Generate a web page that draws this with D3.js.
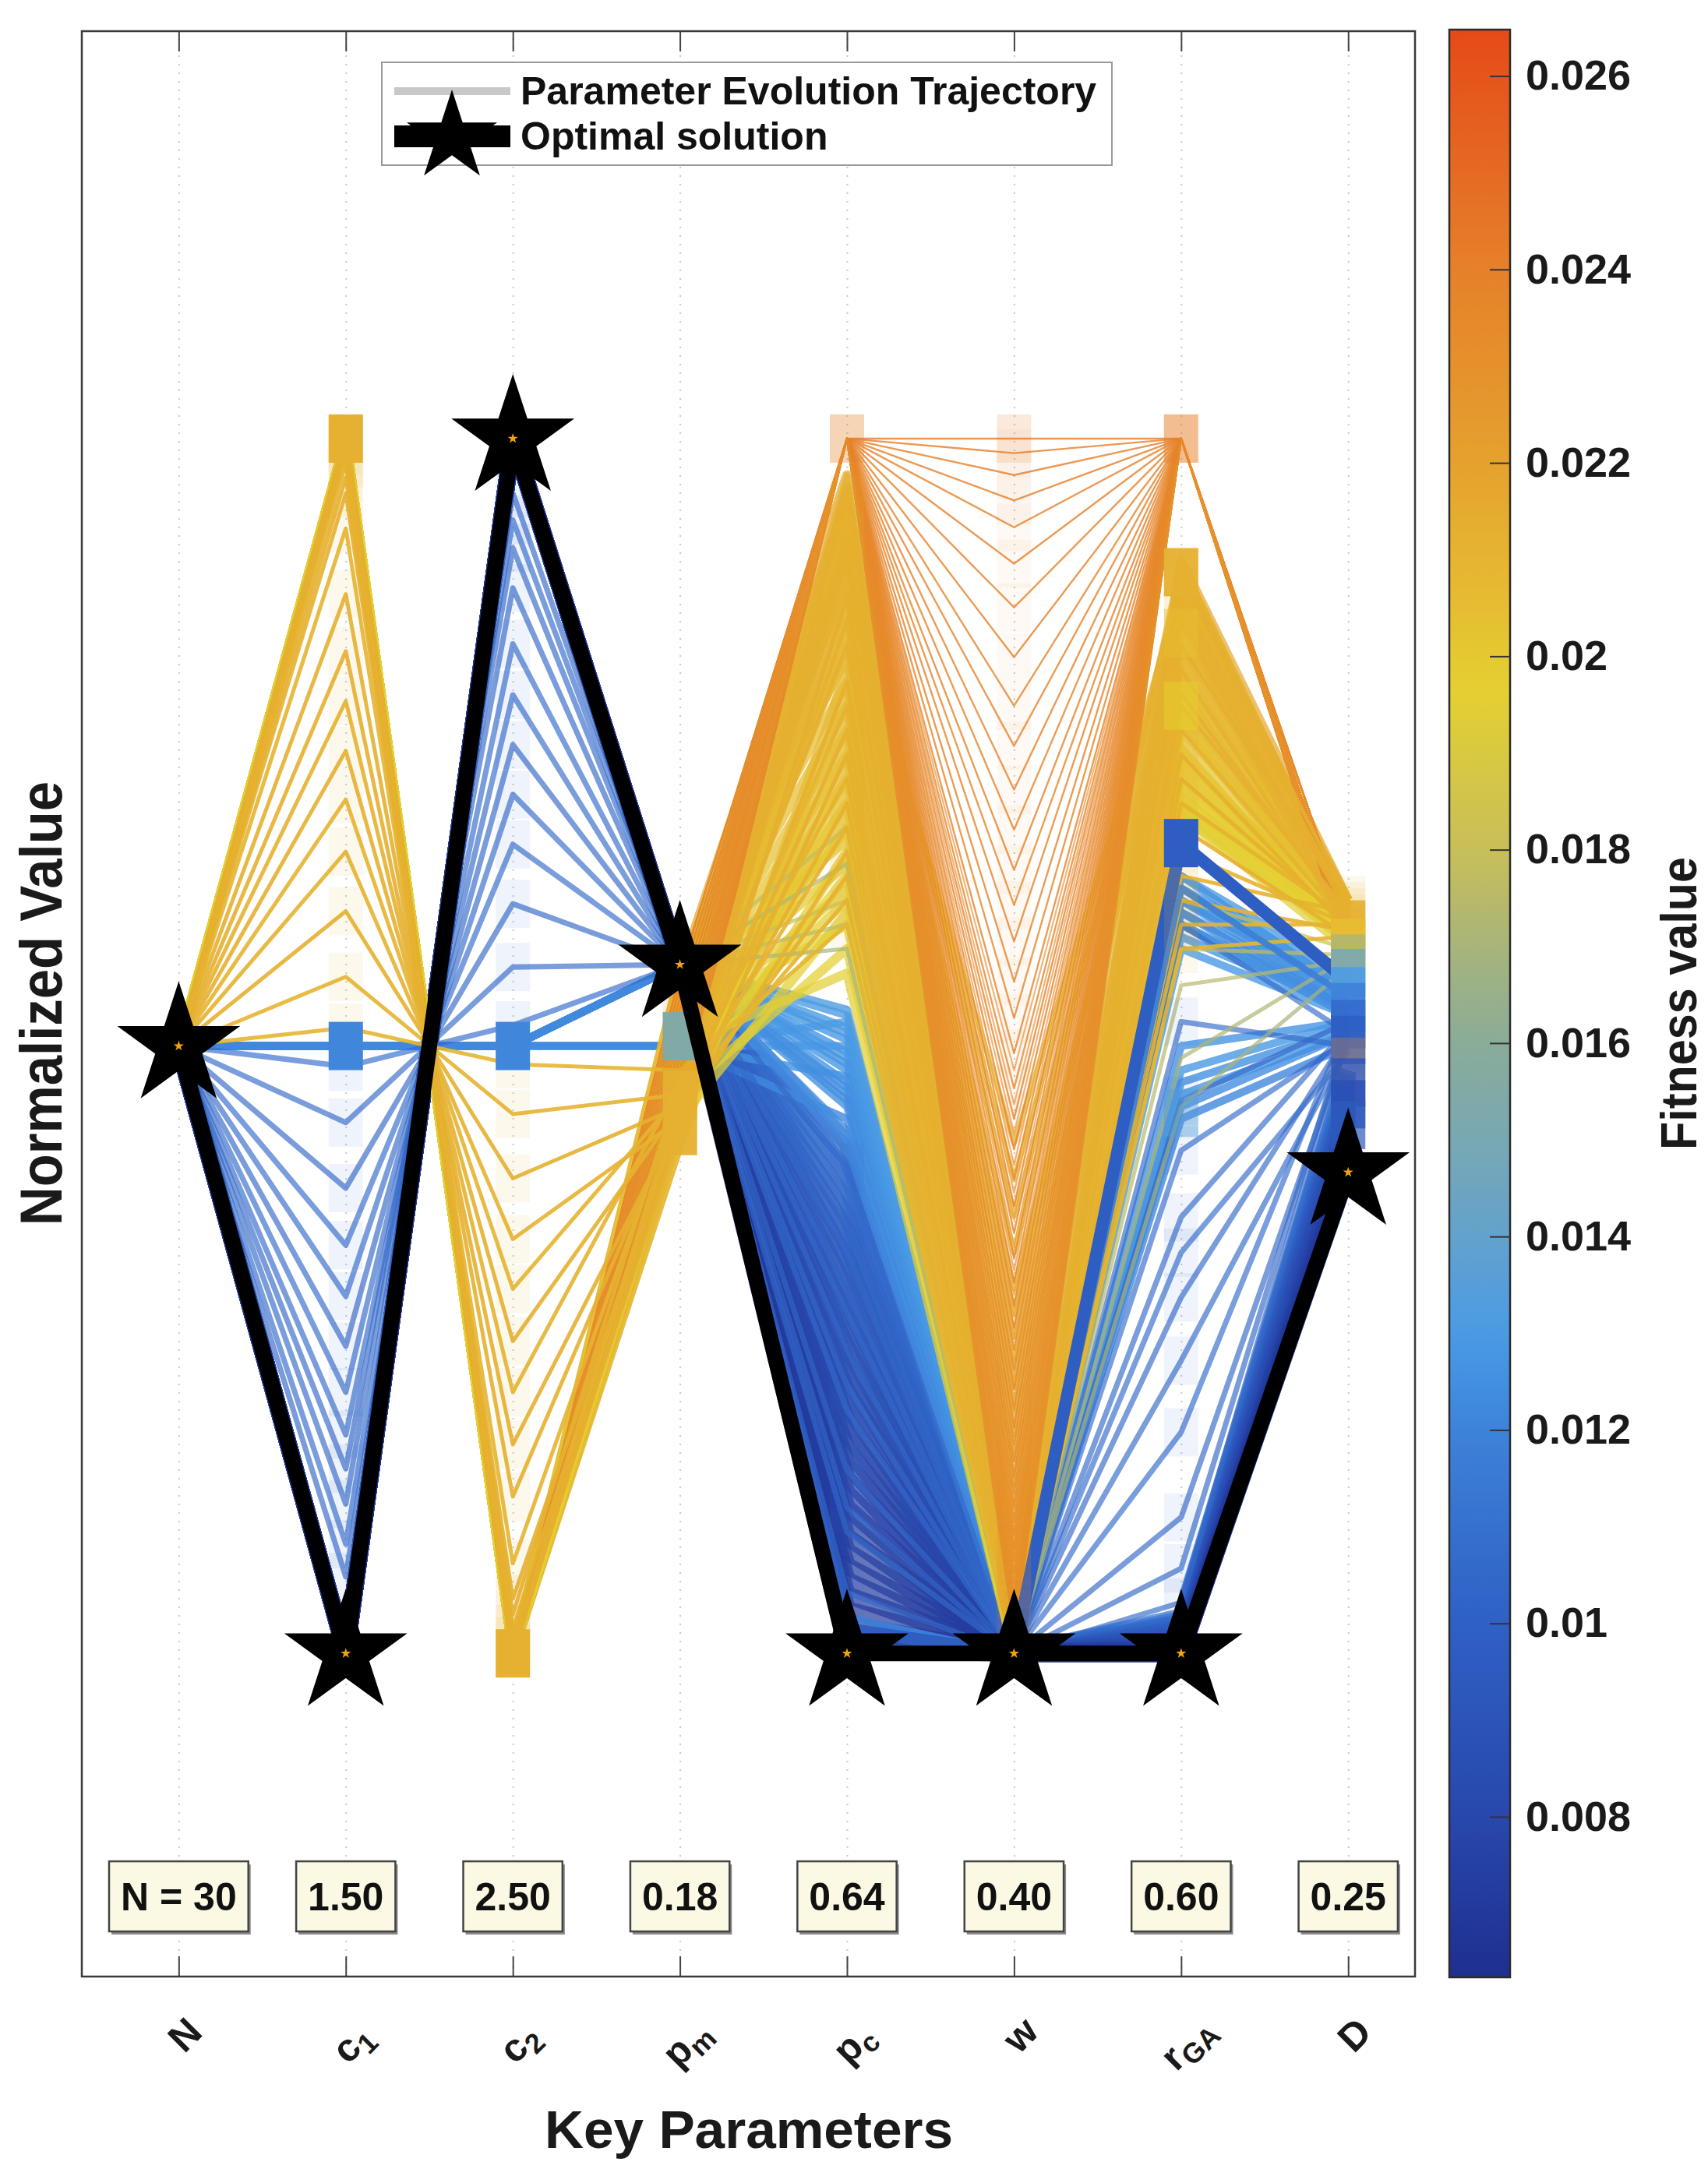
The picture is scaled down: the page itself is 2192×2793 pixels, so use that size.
<!DOCTYPE html>
<html><head><meta charset="utf-8">
<script src="https://cdn.jsdelivr.net/npm/d3@7"></script>
<style>body{margin:0;background:#fff}svg{display:block}</style>
</head><body>
<svg id="chart" width="2192" height="2793"></svg>
<script>
// ---------------- DATA ----------------
const paramKeys = ["N","c1","c2","pm","pc","w","rGA","D"];
const paramLabels = [["N",""],["c","1"],["c","2"],["p","m"],["p","c"],["w",""],["r","GA"],["D",""]];
const optimalLabels = ["N = 30","1.50","2.50","0.18","0.64","0.40","0.60","0.25"];
const optimalNorm = [0.5, 0.0, 1.0, 0.567, 0.0, 0.0, 0.0, 0.396];
const cbarTicks = [0.008,0.010,0.012,0.014,0.016,0.018,0.020,0.022,0.024,0.026];
const cbarDomain = [0.00634, 0.02648];
const cmapFitness = [0.00634,0.008,0.010,0.012,0.013,0.014,0.015,0.016,0.017,0.018,0.0197,0.0205,0.022,0.024,0.02648];
const cmapColors = ["#1e2f8f","#2848ad","#2f60c4","#3d82da","#4a9be6","#63a2cc","#78a8b4","#8aac98","#a8b47a","#c8bf58","#e5d030","#e6bd32","#e5a22e","#e6802a","#e54a18"];
const startN = 0.5;
const wFloor = 0.0;
const boxLevel = -0.2;

// yellow trajectories through upper c1 / lower c2
const arcC1 = [1.0,1.0,0.995,0.99,0.98,0.968,0.955,0.926,0.872,0.825,0.784,0.743,0.703,0.66,0.611,0.557,0.515];
const arcC2 = [0.0,0.0,0.005,0.01,0.02,0.032,0.045,0.074,0.129,0.172,0.215,0.257,0.3,0.341,0.391,0.444,0.485];
const arcPm = [0.45,0.44,0.46,0.43,0.45,0.47,0.44,0.46,0.45,0.44,0.47,0.45,0.46,0.44,0.45,0.46,0.48];
const arcPc = [0.95,0.92,0.9,0.87,0.85,0.83,0.8,0.78,0.76,0.74,0.72,0.7,0.68,0.66,0.64,0.62,0.6];
const arcRga = [0.89,0.87,0.85,0.83,0.81,0.79,0.78,0.76,0.74,0.72,0.7,0.68,0.66,0.64,0.62,0.6,0.58];
const arcD = [0.62,0.615,0.61,0.62,0.6,0.605,0.61,0.6,0.595,0.6,0.605,0.59,0.6,0.61,0.595,0.6,0.59];
const arcFit = [0.0213,0.0212,0.0212,0.0213,0.0211,0.0212,0.0212,0.021,0.0212,0.0213,0.0211,0.0212,0.021,0.0211,0.0212,0.021,0.0209];

// dense yellow mass (c1 = 1, c2 = 0), converging at w = 0
const massPm = [0.56,0.42,0.55,0.43,0.54,0.44,0.53,0.45,0.52,0.46,0.51,0.47,0.5,0.48,0.49,0.56,0.42,0.55,0.43,0.54,0.44,0.53,0.45,0.52,0.46,0.51,0.47,0.5,0.48,0.49,0.55,0.45,0.53,0.47,0.51,0.49,0.44,0.52,0.46,0.5];
const massPc = [0.97,0.96,0.95,0.94,0.93,0.92,0.91,0.9,0.89,0.88,0.87,0.86,0.85,0.84,0.83,0.82,0.81,0.8,0.79,0.78,0.77,0.76,0.75,0.74,0.73,0.72,0.71,0.7,0.69,0.68,0.67,0.66,0.65,0.64,0.63,0.62,0.61,0.6,0.58,0.56];
const massRga = [0.9,0.895,0.89,0.885,0.88,0.875,0.87,0.86,0.855,0.85,0.845,0.84,0.83,0.825,0.82,0.81,0.805,0.8,0.795,0.79,0.78,0.775,0.77,0.765,0.76,0.75,0.745,0.74,0.735,0.73,0.725,0.72,0.715,0.71,0.705,0.7,0.7,0.695,0.69,0.69];
const massD = [0.62,0.61,0.615,0.6,0.62,0.605,0.61,0.6,0.615,0.59,0.61,0.6,0.62,0.595,0.6,0.61,0.6,0.615,0.59,0.6,0.61,0.605,0.6,0.595,0.61,0.6,0.59,0.6,0.605,0.6,0.595,0.6,0.59,0.6,0.595,0.59,0.6,0.585,0.59,0.58];
const massFit = [0.0216,0.0214,0.0215,0.0213,0.0214,0.0212,0.0213,0.0211,0.0212,0.021,0.0211,0.0209,0.021,0.0208,0.0209,0.0207,0.0208,0.0206,0.0207,0.0205,0.0206,0.0204,0.0205,0.0203,0.0204,0.0202,0.0203,0.0201,0.0202,0.02,0.0201,0.0199,0.02,0.0198,0.0199,0.0197,0.0198,0.0196,0.0197,0.0195];

// yellow V trajectories (high pc and rGA, w above zero)
const yvW = [0.42,0.39,0.36,0.33,0.3,0.28,0.26,0.24,0.22,0.2,0.18,0.16,0.14,0.12,0.1,0.085,0.07,0.055,0.04,0.025];
const yvPc = [0.88,0.9,0.92,0.89,0.91,0.93,0.9,0.94,0.92,0.95,0.91,0.93,0.96,0.94,0.92,0.95,0.97,0.93,0.96,0.94];
const yvRga = [0.86,0.88,0.87,0.89,0.85,0.88,0.9,0.86,0.89,0.87,0.88,0.9,0.86,0.89,0.87,0.88,0.9,0.87,0.89,0.88];
const yvPm = [0.52,0.5,0.48,0.54,0.46,0.53,0.49,0.51,0.47,0.55,0.5,0.52,0.48,0.54,0.46,0.53,0.49,0.51,0.47,0.5];
const yvD = [0.6,0.61,0.6,0.62,0.59,0.6,0.61,0.6,0.62,0.6,0.59,0.61,0.6,0.62,0.6,0.61,0.59,0.6,0.61,0.6];
const yvFit = [0.0212,0.0211,0.0213,0.021,0.0212,0.0211,0.0213,0.021,0.0212,0.0211,0.0213,0.021,0.0212,0.0211,0.0213,0.021,0.0212,0.0211,0.0213,0.021];

// orange V trajectories (pc = 1, rGA = 1)
const ovTop = 1.0;
const ovW = [1.0,0.988,0.97,0.949,0.927,0.897,0.861,0.82,0.78,0.747,0.711,0.678,0.645,0.616,0.586,0.553,0.523,0.494,0.465,0.44,0.415,0.39,0.368,0.346,0.325,0.305,0.286,0.268,0.25,0.233,0.217,0.201,0.186,0.172,0.158,0.145,0.132,0.12,0.108,0.097,0.086,0.076,0.066,0.057,0.048,0.04,0.032,0.025,0.018,0.012];
const ovPm = [0.56,0.44,0.55,0.45,0.54,0.46,0.53,0.47,0.52,0.48,0.51,0.49,0.5,0.56,0.44,0.55,0.45,0.54,0.46,0.53,0.47,0.52,0.48,0.51,0.49,0.5,0.56,0.44,0.55,0.45,0.54,0.46,0.53,0.47,0.52,0.48,0.51,0.49,0.5,0.56,0.44,0.55,0.45,0.54,0.46,0.53,0.47,0.52,0.48,0.51];
const ovD = [0.59,0.58,0.6,0.585,0.575,0.59,0.58,0.6,0.585,0.575,0.59,0.58,0.6,0.585,0.575,0.59,0.58,0.6,0.585,0.575,0.59,0.58,0.6,0.585,0.575,0.59,0.58,0.6,0.585,0.575,0.59,0.58,0.6,0.585,0.575,0.59,0.58,0.6,0.585,0.575,0.59,0.58,0.6,0.585,0.575,0.59,0.58,0.6,0.585,0.575];
const ovFit = [0.0242,0.0241,0.024,0.0241,0.0239,0.024,0.0238,0.0239,0.0237,0.0238,0.0239,0.0237,0.0238,0.0236,0.0237,0.0238,0.0236,0.0237,0.0235,0.0236,0.0237,0.0235,0.0236,0.0234,0.0235,0.0236,0.0234,0.0235,0.0233,0.0234,0.0235,0.0233,0.0234,0.0232,0.0233,0.0234,0.0232,0.0233,0.0231,0.0232,0.0233,0.0231,0.0232,0.023,0.0231,0.0232,0.023,0.0231,0.0229,0.023];
// denser orange V trajectories in the lower half
const ov2W = [0.48,0.452,0.428,0.402,0.379,0.357,0.335,0.315,0.295,0.277,0.259,0.241,0.225,0.209,0.193,0.179,0.165,0.151,0.138,0.126,0.114,0.102,0.091,0.081,0.071,0.061,0.052,0.044,0.036,0.028,0.021,0.015];
const ov2Pm = [0.55,0.45,0.53,0.47,0.51,0.49,0.56,0.44,0.54,0.46,0.52,0.48,0.5,0.55,0.45,0.53,0.47,0.51,0.49,0.56,0.44,0.54,0.46,0.52,0.48,0.5,0.55,0.45,0.53,0.47,0.51,0.49];
const ov2D = [0.58,0.59,0.585,0.6,0.575,0.58,0.59,0.585,0.6,0.575,0.58,0.59,0.585,0.6,0.575,0.58,0.59,0.585,0.6,0.575,0.58,0.59,0.585,0.6,0.575,0.58,0.59,0.585,0.6,0.575,0.58,0.59];
const ov2Fit = [0.0237,0.0236,0.0236,0.0235,0.0235,0.0234,0.0234,0.0233,0.0233,0.0232,0.0233,0.0232,0.0232,0.0231,0.0231,0.023,0.0231,0.023,0.023,0.0229,0.023,0.0229,0.0229,0.0228,0.0229,0.0228,0.0228,0.0227,0.0228,0.0227,0.0227,0.0226];

// periwinkle trajectories through lower c1 / upper c2
const pwPmLevel = 0.567;
const pwC1 = [0.483,0.437,0.383,0.336,0.294,0.253,0.215,0.18,0.152,0.123,0.09,0.063];
const pwC2 = [0.517,0.565,0.617,0.666,0.707,0.748,0.789,0.831,0.877,0.91,0.933,0.955];
const pwPc = [0.3,0.25,0.35,0.2,0.4,0.15,0.28,0.1,0.33,0.05,0.22,0.12];
const pwRga = [0.6,0.52,0.455,0.414,0.359,0.293,0.241,0.182,0.112,0.042,0.33,0.07];
const pwD = [0.51,0.5,0.52,0.505,0.515,0.51,0.5,0.52,0.505,0.51,0.495,0.515];
const pwFit = [0.0106,0.0105,0.0104,0.0106,0.0105,0.0104,0.0105,0.0106,0.0104,0.0105,0.0106,0.0104];

// light blue mass (c1 = c2 = 0.5)
const lbMid = 0.5;
const lbPm = [0.567,0.567,0.5,0.567,0.567,0.567,0.5,0.567,0.567,0.567,0.567,0.5,0.567,0.567,0.567,0.567,0.567,0.5,0.567,0.567];
const lbPc = [0.53,0.525,0.52,0.515,0.51,0.505,0.5,0.495,0.49,0.485,0.48,0.475,0.47,0.465,0.46,0.455,0.45,0.44,0.43,0.42];
const lbRga = [0.64,0.63,0.62,0.62,0.61,0.6,0.6,0.59,0.58,0.5,0.48,0.47,0.46,0.45,0.64,0.63,0.62,0.61,0.6,0.44];
const lbD = [0.56,0.555,0.55,0.545,0.54,0.535,0.53,0.53,0.525,0.52,0.52,0.515,0.51,0.51,0.545,0.54,0.535,0.53,0.525,0.5];
const lbFit = [0.0132,0.0131,0.0133,0.013,0.0132,0.0129,0.0131,0.0128,0.013,0.0127,0.0129,0.0126,0.0128,0.0125,0.0127,0.0124,0.0126,0.0123,0.0125,0.0122];

// dark blue mass (near optimum: c1 = 0, c2 = 1)
const dbPc = [0.42,0.408,0.396,0.384,0.372,0.36,0.348,0.336,0.324,0.312,0.3,0.288,0.276,0.264,0.252,0.24,0.228,0.216,0.204,0.192,0.18,0.168,0.156,0.144,0.132,0.12,0.108,0.096,0.084,0.072,0.06,0.048,0.036,0.024,0.012,0.004];
const dbRga = [0.03,0.028,0.026,0.025,0.024,0.022,0.02,0.019,0.018,0.016,0.015,0.014,0.012,0.011,0.01,0.009,0.008,0.007,0.006,0.005,0.005,0.004,0.004,0.003,0.003,0.002,0.002,0.001,0.001,0.0,0.0,0.0,0.0,0.0,0.0,0.0];
const dbD = [0.48,0.477,0.474,0.471,0.468,0.465,0.462,0.459,0.456,0.453,0.45,0.447,0.444,0.441,0.438,0.435,0.432,0.429,0.426,0.423,0.42,0.418,0.416,0.414,0.412,0.41,0.408,0.406,0.404,0.402,0.4,0.4,0.399,0.398,0.397,0.397];
const dbFit = [0.0112,0.0111,0.0109,0.0107,0.0105,0.0103,0.0101,0.0099,0.0097,0.0095,0.0093,0.0092,0.009,0.0089,0.0087,0.0086,0.0084,0.0083,0.0082,0.0081,0.008,0.0079,0.0078,0.0077,0.0076,0.0075,0.0074,0.0074,0.0073,0.0073,0.0072,0.0072,0.0071,0.0071,0.007,0.007];

// olive trajectories
const olPc = [0.68,0.65,0.62,0.6,0.58];
const olRga = [0.58,0.49,0.62,0.55,0.45];
const olD = [0.575,0.573,0.58,0.57,0.565];
const olFit = [0.0178,0.0172,0.018,0.0175,0.017];

// strong blue trajectories to the rGA square
const tbPc = [0.02,0.03];
const tbRga = [0.667,0.63];
const tbD = [0.553,0.54];
const tbFit = [0.0098,0.0118];

// highlighted markers: [axis index, normalized value, fitness, opacity]
const strongMarkers = [
  [1,1.0,0.0212,1],[1,0.5,0.0122,1],
  [2,0.5,0.0122,1],[2,0.0,0.0212,1],
  [3,0.508,0.0155,1],[3,0.46,0.0212,0.95],[3,0.43,0.0212,0.95],
  [4,1.0,0.0238,0.3],[5,1.0,0.0238,0.12],
  [6,1.0,0.0238,0.5],[6,0.84,0.0203,0.45],[6,0.89,0.0212,0.95],[6,0.78,0.0198,0.55],
  [6,0.667,0.0098,1],[6,0.445,0.0135,0.45],
  [7,0.6,0.0212,0.9],[7,0.585,0.0205,0.85],[7,0.572,0.0172,0.85],[7,0.56,0.015,0.85],
  [7,0.545,0.013,0.85],[7,0.532,0.0118,0.85],[7,0.518,0.0106,0.85],[7,0.505,0.0098,0.85],
  [7,0.487,0.0236,0.3],[7,0.47,0.009,0.8],[7,0.452,0.0087,0.8],[7,0.435,0.0095,0.7]
];

// ---------------- RENDER ----------------
const FONT = "'Liberation Sans', Arial, Helvetica, sans-serif";
const svg = d3.select("#chart");
svg.append("rect").attr("width",2192).attr("height",2793).attr("fill","#fff");

const PL = 105, PR = 1816, PT = 40, PB = 2537;
const x = d3.scaleLinear().domain([0.42, 8.4]).range([PL, PR]);
const y = d3.scaleLinear().domain([-0.266, 1.336]).range([PB, 39]);
const color = d3.scaleLinear().domain(cmapFitness).range(cmapColors).interpolate(d3.interpolateRgb).clamp(true);
const axisIdx = paramKeys.map((k,i)=>i+1);

// grid
const grid = svg.append("g").attr("transform",`translate(0,${PB})`)
  .call(d3.axisBottom(x).tickValues(axisIdx).tickSize(-(PB-PT)).tickFormat(""));
grid.select(".domain").remove();
grid.selectAll("line").attr("stroke","#c8c8c8").attr("stroke-width",2).attr("stroke-dasharray","2,9");

// build trajectory rows
const rowsArc = arcC1.map((c,i)=>({v:[startN,c,arcC2[i],arcPm[i],arcPc[i],wFloor,arcRga[i],arcD[i]],f:arcFit[i]}));
const rowsMass = massPc.map((p,i)=>({v:[startN,1.0,0.0,massPm[i],p,wFloor,massRga[i],massD[i]],f:massFit[i]}));
const rowsYV = yvW.map((w,i)=>({v:[startN,1.0,0.0,yvPm[i],yvPc[i],w,yvRga[i],yvD[i]],f:yvFit[i]}));
const rowsOV = ovW.map((w,i)=>({v:[startN,1.0,0.0,ovPm[i],ovTop,w,ovTop,ovD[i]],f:ovFit[i]}));
const rowsOV2 = ov2W.map((w,i)=>({v:[startN,1.0,0.0,ov2Pm[i],ovTop,w,ovTop,ov2D[i]],f:ov2Fit[i]}));
const rowsPW = pwC1.map((c,i)=>({v:[startN,c,pwC2[i],pwPmLevel,pwPc[i],wFloor,pwRga[i],pwD[i]],f:pwFit[i]}));
const rowsLB = lbPc.map((p,i)=>({v:[startN,lbMid,lbMid,lbPm[i],p,wFloor,lbRga[i],lbD[i]],f:lbFit[i]}));
const rowsDB = dbPc.map((p,i)=>({v:[startN,0.0,1.0,pwPmLevel,p,wFloor,dbRga[i],dbD[i]],f:dbFit[i]}));
const rowsOL = olPc.map((p,i)=>({v:[startN,0.0,1.0,pwPmLevel,p,wFloor,olRga[i],olD[i]],f:olFit[i]}));
const rowsTB = tbPc.map((p,i)=>({v:[startN,0.0,1.0,pwPmLevel,p,wFloor,tbRga[i],tbD[i]],f:tbFit[i]}));

const lineGen = d3.line().x((d,i)=>x(i+1)).y(d=>y(d));
const lines = svg.append("g");
function drawFamily(rows, width, opacity){
  lines.append("g").selectAll("path").data(rows).enter().append("path")
    .attr("d", r=>lineGen(r.v)).attr("fill","none")
    .attr("stroke", r=>color(r.f)).attr("stroke-width", width)
    .attr("stroke-opacity", opacity).attr("stroke-linejoin","round");
}
drawFamily(rowsDB, 22, 0.7);
drawFamily(rowsLB, 10, 0.8);
drawFamily(rowsPW, 7, 0.65);
drawFamily(rowsMass, 12, 0.72);
drawFamily(rowsOV2, 2.2, 0.6);
drawFamily(rowsYV, 7, 0.7);
drawFamily(rowsOL, 5, 0.7);
drawFamily(rowsOV, 2.4, 0.8);
drawFamily(rowsArc, 5, 0.9);
drawFamily(rowsTB.slice(1), 8, 0.95);
drawFamily(rowsTB.slice(0,1), 16, 1);

// markers
const MW = 44, MH = 62;
const markers = svg.append("g");
function faintMarkers(rows, op){
  const seen = new Set();
  rows.forEach(r=>r.v.forEach((val,i)=>{
    if(i===0) return;
    if(Math.abs(val-optimalNorm[i])<0.02) return;
    const key = i+":"+Math.round(val*200);
    if(seen.has(key)) return; seen.add(key);
    markers.append("rect").attr("x",x(i+1)-MW/2).attr("y",y(val)-MH/2)
      .attr("width",MW).attr("height",MH).attr("fill",color(r.f)).attr("fill-opacity",op);
  }));
}
faintMarkers(rowsArc, 0.09);
faintMarkers(rowsPW, 0.08);
faintMarkers(rowsOV, 0.05);
markers.selectAll(".strong").data(strongMarkers).enter().append("rect").attr("class","strong")
  .attr("x",d=>x(d[0]+1)-MW/2).attr("y",d=>y(d[1])-MH/2).attr("width",MW).attr("height",MH)
  .attr("fill",d=>color(d[2])).attr("fill-opacity",d=>d[3]);

// optimal solution
function starPath(R){
  const r = R*0.382; let p = "";
  for(let k=0;k<10;k++){
    const a = -Math.PI/2 + k*Math.PI/5, rad = k%2===0?R:r;
    p += (k?"L":"M") + (rad*Math.cos(a)).toFixed(2) + "," + (rad*Math.sin(a)).toFixed(2);
  }
  return p+"Z";
}
const opt = svg.append("g");
opt.append("path").attr("d", lineGen(optimalNorm)).attr("fill","none").attr("stroke","#000")
  .attr("stroke-width",20).attr("stroke-linejoin","round");
optimalNorm.forEach((v,i)=>{
  opt.append("path").attr("d",starPath(83)).attr("transform",`translate(${x(i+1)},${y(v)})`).attr("fill","#000");
  opt.append("path").attr("d",starPath(7)).attr("transform",`translate(${x(i+1)},${y(v)})`).attr("fill","#f0a30a");
});

// axes box and ticks
svg.append("g").attr("transform",`translate(0,${PB})`)
  .call(d3.axisBottom(x).tickValues(axisIdx).tickSize(-26).tickFormat(""))
  .call(g=>{g.select(".domain").remove(); g.selectAll("line").attr("stroke","#444").attr("stroke-width",2);});
svg.append("g").attr("transform",`translate(0,${PT})`)
  .call(d3.axisTop(x).tickValues(axisIdx).tickSize(-26).tickFormat(""))
  .call(g=>{g.select(".domain").remove(); g.selectAll("line").attr("stroke","#444").attr("stroke-width",2);});
svg.append("rect").attr("x",PL).attr("y",PT).attr("width",PR-PL).attr("height",PB-PT)
  .attr("fill","none").attr("stroke","#3a3a3a").attr("stroke-width",2.5);

// value boxes
optimalLabels.forEach((t,i)=>{
  const gb = svg.append("g").attr("transform",`translate(${x(i+1)},${y(boxLevel)})`);
  const txt = gb.append("text").text(t).attr("text-anchor","middle").attr("y",18)
    .attr("font-family",FONT).attr("font-weight","bold").attr("font-size",50).attr("fill","#111");
  const w = txt.node().getComputedTextLength();
  gb.insert("rect","text").attr("x",-w/2-15+3).attr("y",-45+4).attr("width",w+30).attr("height",90).attr("fill","#8a8a8a");
  gb.insert("rect","text").attr("x",-w/2-15).attr("y",-45).attr("width",w+30).attr("height",90)
    .attr("fill","#fbf9e4").attr("stroke","#444").attr("stroke-width",2.5);
});

// x tick labels
paramLabels.forEach((lab,i)=>{
  const t = svg.append("text").attr("transform",`translate(${x(i+1)+8},${2612 + (lab[1]?10:0)}) rotate(-45)`)
    .attr("text-anchor","middle").attr("dominant-baseline","central")
    .attr("font-family",FONT).attr("font-weight","bold").attr("font-size",50).attr("fill","#1a1a1a");
  t.append("tspan").text(lab[0]);
  if(lab[1]) t.append("tspan").text(lab[1]).attr("font-size",36).attr("dy",14);
});

// axis titles
svg.append("text").text("Key Parameters").attr("x",961).attr("y",2757).attr("text-anchor","middle")
  .attr("font-family",FONT).attr("font-weight","bold").attr("font-size",68).attr("fill","#1a1a1a")
  .attr("textLength",524).attr("lengthAdjust","spacingAndGlyphs");
svg.append("text").text("Normalized Value").attr("transform","translate(79,1288) rotate(-90)").attr("text-anchor","middle")
  .attr("font-family",FONT).attr("font-weight","bold").attr("font-size",76).attr("fill","#1a1a1a")
  .attr("textLength",570).attr("lengthAdjust","spacingAndGlyphs");

// colorbar
const CBL = 1860, CBR = 1938, CBT = 38, CBB = 2538;
const cy = d3.scaleLinear().domain(cbarDomain).range([CBB, CBT]);
const grad = svg.append("defs").append("linearGradient").attr("id","cbgrad")
  .attr("x1",0).attr("y1",1).attr("x2",0).attr("y2",0);
d3.range(0,1.0001,0.02).forEach(t=>{
  grad.append("stop").attr("offset",t).attr("stop-color",color(cbarDomain[0]+t*(cbarDomain[1]-cbarDomain[0])));
});
svg.append("rect").attr("x",CBL).attr("y",CBT).attr("width",CBR-CBL).attr("height",CBB-CBT)
  .attr("fill","url(#cbgrad)").attr("stroke","#2a2a2a").attr("stroke-width",2.5);
svg.append("g").attr("transform",`translate(${CBR},0)`)
  .call(d3.axisRight(cy).tickValues(cbarTicks).tickSizeInner(-26).tickSizeOuter(0).tickPadding(20)
    .tickFormat(d=>String(+d.toFixed(3))))
  .call(g=>{
    g.select(".domain").remove();
    g.selectAll("line").attr("stroke","#333").attr("stroke-width",2);
    g.selectAll("text").attr("font-family",FONT).attr("font-weight","bold").attr("font-size",54).attr("fill","#1a1a1a");
  });
svg.append("text").text("Fitness value").attr("transform","translate(2177,1288) rotate(-90)").attr("text-anchor","middle")
  .attr("font-family",FONT).attr("font-weight","bold").attr("font-size",64).attr("fill","#1a1a1a")
  .attr("textLength",376).attr("lengthAdjust","spacingAndGlyphs");

// legend
const lg = svg.append("g");
lg.append("rect").attr("x",490).attr("y",80).attr("width",937).attr("height",132)
  .attr("fill","#fff").attr("stroke","#9a9a9a").attr("stroke-width",2);
lg.append("line").attr("x1",506).attr("x2",655).attr("y1",117).attr("y2",117).attr("stroke","#c8c8c8").attr("stroke-width",10);
lg.append("text").text("Parameter Evolution Trajectory").attr("x",668).attr("y",134)
  .attr("font-family",FONT).attr("font-weight","bold").attr("font-size",50).attr("fill","#111");
lg.append("line").attr("x1",506).attr("x2",655).attr("y1",175).attr("y2",175).attr("stroke","#000").attr("stroke-width",28);
lg.append("path").attr("d",starPath(61)).attr("transform","translate(580,176)").attr("fill","#000");
lg.append("text").text("Optimal solution").attr("x",668).attr("y",192)
  .attr("font-family",FONT).attr("font-weight","bold").attr("font-size",50).attr("fill","#111");
</script>
</body></html>
